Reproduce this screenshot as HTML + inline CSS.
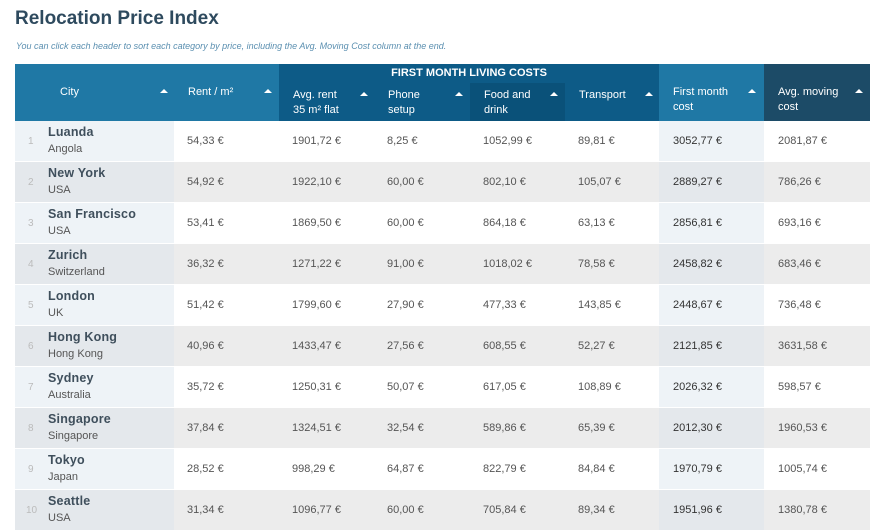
<!DOCTYPE html>
<html><head><style>
body{margin:0;width:888px;height:529px;background:#fff;font-family:"Liberation Sans",sans-serif;position:relative;overflow:hidden}
.a{position:absolute}
h1{position:absolute;left:15px;top:8px;margin:0;font-size:19px;font-weight:bold;color:#2e4a5e}
.sub{left:16px;top:41px;font-size:9px;font-style:italic;color:#5a8fb0}
.hd{color:#fff;font-size:11px;line-height:15px}
.tri{position:absolute;width:0;height:0;border-left:4px solid transparent;border-right:4px solid transparent;border-bottom:4px solid #fff}
.c{font-size:11px;color:#555;line-height:14px}
.nm{font-size:12.5px;color:#3f4f5c;font-weight:bold;letter-spacing:0.2px}
</style></head><body>
<h1>Relocation Price Index</h1>
<div class="a sub">You can click each header to sort each category by price, including the Avg. Moving Cost column at the end.</div>
<div class="a" style="left:15px;top:64px;width:264px;height:57px;background:#1f78a5"></div>
<div class="a" style="left:279px;top:64px;width:380px;height:57px;background:#0d5b87"></div>
<div class="a" style="left:470px;top:83px;width:95px;height:38px;background:#0a5179"></div>
<div class="a" style="left:659px;top:64px;width:105px;height:57px;background:#1f78a5"></div>
<div class="a" style="left:764px;top:64px;width:106px;height:57px;background:#1c4b67"></div>
<div class="a hd" style="left:279px;width:380px;top:66px;text-align:center;font-weight:bold;font-size:11px">FIRST MONTH LIVING COSTS</div>
<div class="a hd" style="left:60px;top:85px">City</div><div class="tri" style="left:160px;top:89px"></div>
<div class="a hd" style="left:188px;top:85px">Rent / m²</div><div class="tri" style="left:264px;top:89px"></div>
<div class="a hd" style="left:293px;top:88px">Avg. rent<br>35 m² flat</div><div class="tri" style="left:360px;top:92px"></div>
<div class="a hd" style="left:388px;top:88px">Phone<br>setup</div><div class="tri" style="left:455px;top:92px"></div>
<div class="a hd" style="left:484px;top:88px">Food and<br>drink</div><div class="tri" style="left:550px;top:92px"></div>
<div class="a hd" style="left:579px;top:88px">Transport</div><div class="tri" style="left:645px;top:92px"></div>
<div class="a hd" style="left:673px;top:85px">First month<br>cost</div><div class="tri" style="left:748px;top:89px"></div>
<div class="a hd" style="left:778px;top:85px">Avg. moving<br>cost</div><div class="tri" style="left:855px;top:89px"></div>
<div id="rows"></div>
<script>
var d=[["Luanda","Angola","54,33","1901,72","8,25","1052,99","89,81","3052,77","2081,87"],
["New York","USA","54,92","1922,10","60,00","802,10","105,07","2889,27","786,26"],
["San Francisco","USA","53,41","1869,50","60,00","864,18","63,13","2856,81","693,16"],
["Zurich","Switzerland","36,32","1271,22","91,00","1018,02","78,58","2458,82","683,46"],
["London","UK","51,42","1799,60","27,90","477,33","143,85","2448,67","736,48"],
["Hong Kong","Hong Kong","40,96","1433,47","27,56","608,55","52,27","2121,85","3631,58"],
["Sydney","Australia","35,72","1250,31","50,07","617,05","108,89","2026,32","598,57"],
["Singapore","Singapore","37,84","1324,51","32,54","589,86","65,39","2012,30","1960,53"],
["Tokyo","Japan","28,52","998,29","64,87","822,79","84,84","1970,79","1005,74"],
["Seattle","USA","31,34","1096,77","60,00","705,84","89,34","1951,96","1380,78"]];
var xs=[187,292,387,483,578,673,778],h="";
d.forEach(function(r,i){var y=121+i*41,odd=i%2==1;
h+='<div class="a" style="left:15px;top:'+y+'px;width:855px;height:40px;background:'+(odd?'#ececec':'#fff')+'"></div>';
h+='<div class="a" style="left:15px;top:'+y+'px;width:159px;height:40px;background:'+(odd?'#e4e8ec':'#eef3f7')+'"></div>';
h+='<div class="a" style="left:659px;top:'+y+'px;width:105px;height:40px;background:'+(odd?'#e4e8ec':'#eef3f7')+'"></div>';
h+='<div class="a c" style="left:'+(i==9?26:28)+'px;top:'+(y+14)+'px;color:#bbb;font-size:10px">'+(i+1)+'</div>';
h+='<div class="a nm" style="left:48px;top:'+(y+4)+'px">'+r[0]+'</div>';
h+='<div class="a c" style="left:48px;top:'+(y+21)+'px">'+r[1]+'</div>';
for(var k=0;k<7;k++)h+='<div class="a c" style="left:'+xs[k]+'px;top:'+(y+13)+'px'+(k==5?';color:#333':'')+'">'+r[k+2]+' €</div>';});
document.getElementById('rows').innerHTML=h;
</script>
</body></html>
